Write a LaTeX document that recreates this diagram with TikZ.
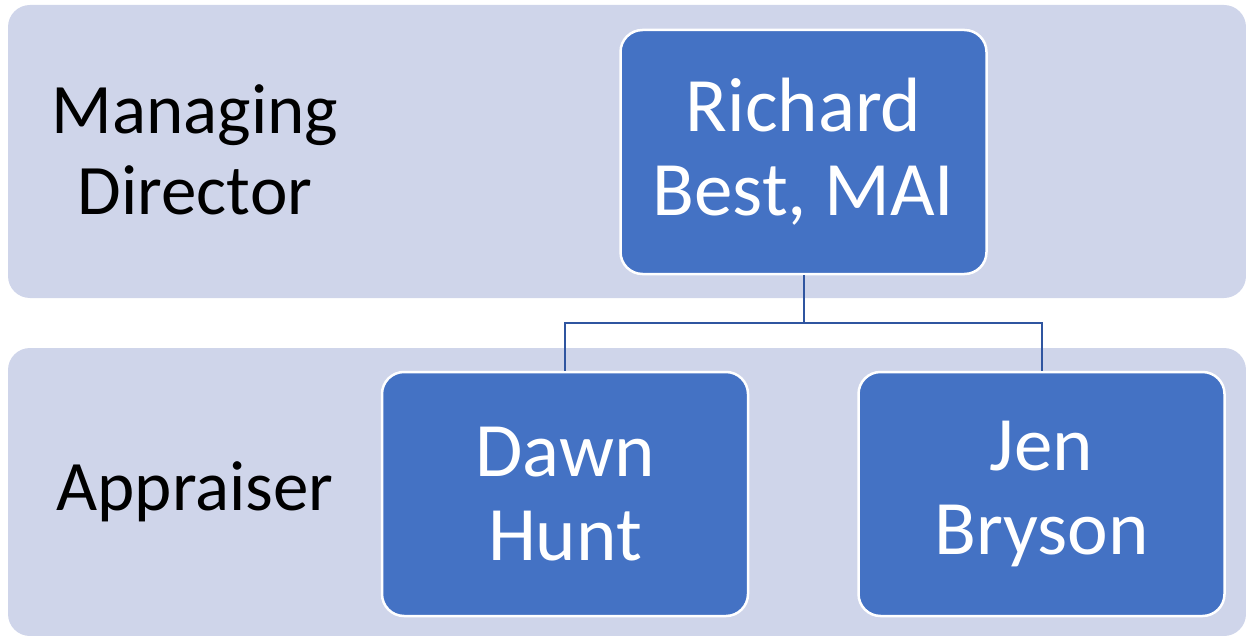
\documentclass[tikz,border=0pt]{standalone}
\usepackage{fontspec}
\setmainfont{Carlito}
\definecolor{band}{HTML}{CFD5EA}
\definecolor{boxblue}{HTML}{4472C4}
\definecolor{linkblue}{HTML}{2F55A0}
\begin{document}
\begin{tikzpicture}[x=1pt,y=-1pt,
  person/.style={fill=boxblue, draw=white, line width=2.5pt, rounded corners=22pt,
    minimum width=366pt, minimum height=244pt, text=white, align=center,
    font=\fontsize{77}{84}\selectfont},
  rolelabel/.style={text=black, align=center, font=\fontsize{71}{81}\selectfont},
  link/.style={draw=linkblue, line width=2pt}]
\useasboundingbox (0,0) rectangle (1246,636);
\fill[band, rounded corners=22pt] (8,5) rectangle (1246,298);
\fill[band, rounded corners=22pt] (8,348) rectangle (1246,636);
\node[rolelabel] (md) at (195,150) {Managing\\Director};
\node[rolelabel] (ap) at (195,492) {Appraiser};
\node[person] (rb) at (803.5,152) {Richard\\Best, MAI};
\node[person] (dh) at (565,494) {Dawn\\Hunt};
\node[person] (jb) at (1041.5,494) {Jen\\Bryson};
\coordinate (mid) at (803.5,323);
\draw[link] (rb.south) -- (mid) -| (dh.north);
\draw[link] (mid) -| (jb.north);
\end{tikzpicture}
\end{document}
